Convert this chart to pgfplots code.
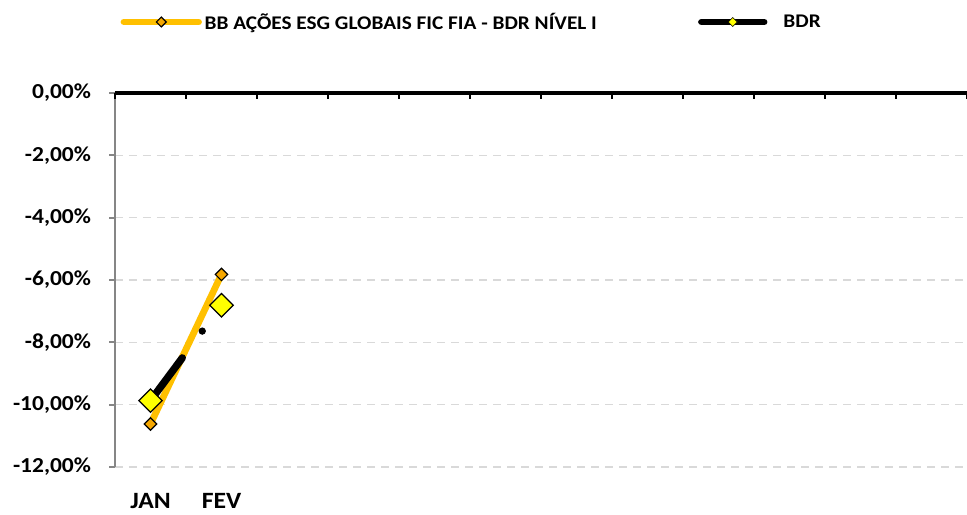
\documentclass[border=0pt]{standalone}
\usepackage{pgfplots}
\pgfplotsset{compat=1.18}
\usepackage{fontspec}
\setmainfont{Carlito}[FakeStretch=1.1]
\definecolor{gold}{HTML}{FFC000}
\definecolor{goldmk}{HTML}{F5A700}
\definecolor{ylw}{HTML}{FFFF00}
\definecolor{gridc}{HTML}{D9D9D9}
\definecolor{axgray}{HTML}{868686}
\pgfplotsset{
  long legend/.style={legend image code/.code={\draw[mark repeat=2,mark phase=2,##1]
    plot coordinates {(0pt,0pt) (28pt,0pt) (56pt,0pt)};}},
  short legend/.style={legend image code/.code={\draw[mark repeat=2,mark phase=2,##1]
    plot coordinates {(0pt,0pt) (23.5pt,0pt) (47pt,0pt)}; \path (57pt,0pt);}},
}
\begin{document}
\begin{tikzpicture}
% 1 px of the reference = 0.75pt
\useasboundingbox (-86.25pt,-35.25pt) rectangle (639pt,350.25pt);
\begin{axis}[
  scale only axis, width=639pt, height=280.5pt,
  xmin=-0.5, xmax=11.5, ymin=-12, ymax=0,
  axis x line*=bottom, axis y line*=left,
  x axis line style={draw=none},
  y axis line style={draw=axgray, line width=1.5pt},
  xtick={0,1}, xticklabels={JAN,FEV},
  major x tick style={draw=none},
  ytick={-12,-10,...,0},
  yticklabels={{-12,00\%},{-10,00\%},{-8,00\%},{-6,00\%},{-4,00\%},{-2,00\%},{0,00\%}},
  tick align=outside, major tick length=4.5pt,
  major y tick style={draw=axgray, line width=1.5pt},
  ymajorgrids, grid style={gridc, line width=1.2pt, dash pattern=on 6pt off 4.5pt},
  yticklabel style={font=\bfseries\fontsize{16pt}{18pt}\selectfont, xshift=-10pt},
  xticklabel style={font=\bfseries\fontsize{17.5pt}{20pt}\selectfont, yshift=-12pt},
  clip=false,
  legend columns=2,
  legend style={at={(axis description cs:0,1)}, anchor=west, xshift=4pt, yshift=53.25pt,
    draw=none, fill=none, inner sep=0pt,
    font=\bfseries\fontsize{14.5pt}{18pt}\selectfont,
    /tikz/every even column/.append style={column sep=74pt}},
  legend cell align=left,
]
% zero line with the category ticks
\draw[black, line width=2.5pt] (axis cs:-0.5,0) -- (axis cs:11.5,0);
\pgfplotsinvokeforeach{-0.5,0.5,...,11.5}{
  \draw[black, line width=2.2pt] (axis cs:#1,0) -- ([yshift=-4.5pt]axis cs:#1,0);
}
\addplot[forget plot, gold, line width=5pt, line cap=round, mark=square*, mark size=3.3pt,
  mark options={rotate=45, fill=goldmk, draw=black, line width=0.9pt, solid}]
  coordinates {(0,-10.62) (1,-5.82)};
\addplot[forget plot, black, line width=5.5pt, line cap=round,
  dash pattern=on 40pt off 25pt on 0pt off 25pt,
  mark=square*, mark size=6.2pt,
  mark options={rotate=45, fill=ylw, draw=black, line width=0.9pt, solid}]
  coordinates {(0,-9.87) (1,-6.81)};
\addlegendimage{long legend, gold, line width=5pt, line cap=round, mark=square*, mark size=2.6pt,
  mark options={rotate=45, fill=goldmk, draw=black, line width=0.9pt}}
\addlegendentry{BB AÇÕES ESG GLOBAIS FIC FIA - BDR NÍVEL I}
\addlegendimage{short legend, black, line width=5pt, line cap=round, mark=square*, mark size=2.4pt,
  mark options={rotate=45, fill=ylw, draw=black, line width=0.4pt}}
\addlegendentry{BDR}
\end{axis}
\end{tikzpicture}
\end{document}
